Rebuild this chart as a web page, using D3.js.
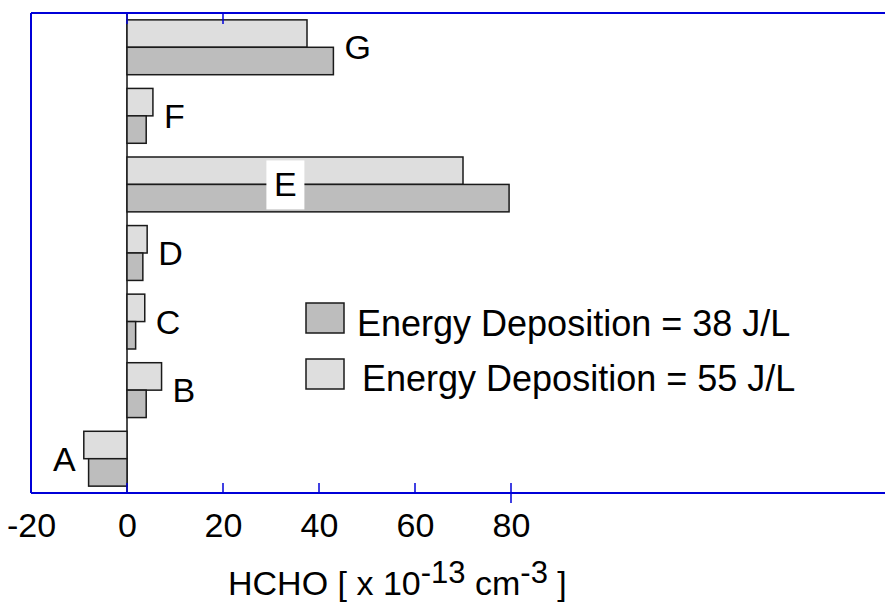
<!DOCTYPE html>
<html><head><meta charset="utf-8">
<script src="https://cdn.jsdelivr.net/npm/d3@7"></script>
<style>
body{margin:0;background:#fff}
svg{display:block;font-family:"Liberation Sans",Arial,Helvetica,sans-serif}
</style></head>
<body>
<svg id="chart" width="885" height="603"></svg>
<script>
// ---- data ----
const categories = ["A", "B", "C", "D", "E", "F", "G"];
const energy38 = [-8, 4, 1.8, 3.3, 79.6, 4, 43];      // dark bars
const energy55 = [-9, 7.2, 3.7, 4.2, 70, 5.4, 37.5];  // light bars
const seriesNames = ["Energy Deposition = 38 J/L", "Energy Deposition = 55 J/L"];
const tickValues = [-20, 0, 20, 40, 60, 80];
const topTickValues = [-20, 0, 20];
const insideLabel = "E";      // label drawn inside its bar on a white box
const insideLabelValue = 33;  // data position of that label

(function () {
// ---- layout ----
const svg = d3.select("#chart");
const pLeft = 31, pTop = 13, pBottom = 493;
const x = d3.scaleLinear().domain([-20, 160]).range([pLeft, pLeft + 180 * 4.8]);
const y = d3.scaleBand().domain(categories).range([pBottom, pTop]).padding(0);
const groupH = y.bandwidth() * 0.8;
const barH = groupH / 2;
const blue = "#0000d8";
const light = "#dedede", dark = "#bdbdbd";

const rows = categories.map((c, i) => ({ cat: c, v38: energy38[i], v55: energy55[i] }));

// zero line
svg.append("line")
  .attr("x1", x(0)).attr("x2", x(0)).attr("y1", pTop).attr("y2", pBottom)
  .attr("stroke", "#111").attr("stroke-width", 1.5);

// bars
const g = svg.append("g");
rows.forEach(r => {
  const cy = y(r.cat) + y.bandwidth() / 2;
  g.append("rect")
    .attr("x", x(Math.min(0, r.v55))).attr("y", cy - barH)
    .attr("width", Math.abs(x(r.v55) - x(0))).attr("height", barH)
    .attr("fill", light).attr("stroke", "#1a1a1a").attr("stroke-width", 1.5);
  g.append("rect")
    .attr("x", x(Math.min(0, r.v38))).attr("y", cy)
    .attr("width", Math.abs(x(r.v38) - x(0))).attr("height", barH)
    .attr("fill", dark).attr("stroke", "#1a1a1a").attr("stroke-width", 1.5);
});

// category labels
rows.forEach(r => {
  const cy = y(r.cat) + y.bandwidth() / 2;
  if (r.cat === insideLabel) {
    const cx = x(insideLabelValue);
    svg.append("rect").attr("x", cx - 19).attr("y", cy - 24).attr("width", 38).attr("height", 49)
      .attr("fill", "#fff");
    svg.append("text").attr("x", cx).attr("y", cy + 12).attr("text-anchor", "middle")
      .attr("font-size", 34).attr("fill", "#000").text(r.cat);
  } else {
    const mn = Math.min(r.v38, r.v55), mx = Math.max(r.v38, r.v55);
    const neg = mn < 0;
    svg.append("text")
      .attr("x", neg ? x(mn) - 8 : x(mx) + 11)
      .attr("y", cy + 12)
      .attr("text-anchor", neg ? "end" : "start")
      .attr("font-size", 34).attr("fill", "#000").text(r.cat);
  }
});

// frame (right side beyond canvas)
svg.append("line").attr("x1", pLeft).attr("x2", 885).attr("y1", pTop).attr("y2", pTop)
  .attr("stroke", blue).attr("stroke-width", 2);
svg.append("line").attr("x1", pLeft).attr("x2", pLeft).attr("y1", pTop).attr("y2", pBottom)
  .attr("stroke", blue).attr("stroke-width", 2);

// bottom axis
const axis = d3.axisBottom(x).tickValues(tickValues).tickSize(0).tickFormat(d => String(d));
const ax = svg.append("g").attr("transform", `translate(0,${pBottom})`).call(axis);
ax.select(".domain").remove();
ax.selectAll(".tick text").attr("font-size", 34).attr("fill", "#000")
  .attr("font-family", "'Liberation Sans',Arial,sans-serif").attr("dy", "1.2em");
svg.append("line").attr("x1", pLeft).attr("x2", 885).attr("y1", pBottom).attr("y2", pBottom)
  .attr("stroke", blue).attr("stroke-width", 2);
tickValues.forEach(v => {
  svg.append("line").attr("x1", x(v)).attr("x2", x(v))
    .attr("y1", pBottom - 10).attr("y2", v === 80 ? pBottom + 10 : pBottom)
    .attr("stroke", blue).attr("stroke-width", 1.5);
});
topTickValues.forEach(v => {
  svg.append("line").attr("x1", x(v)).attr("x2", x(v))
    .attr("y1", pTop).attr("y2", pTop + 11)
    .attr("stroke", blue).attr("stroke-width", 1.5);
});

// axis title
const t = svg.append("text").attr("x", 228).attr("y", 595).attr("font-size", 34).attr("fill", "#000");
t.append("tspan").text("HCHO [ x 10");
t.append("tspan").attr("dy", -12).attr("font-size", 31).text("-13");
t.append("tspan").attr("dy", 12).text(" cm");
t.append("tspan").attr("dy", -12).attr("font-size", 31).text("-3");
t.append("tspan").attr("dy", 12).text(" ]");

// legend
const legend = [
  { name: seriesNames[0], fill: dark, bx: 306, by: 303, tx: 357, ty: 336 },
  { name: seriesNames[1], fill: light, bx: 306, by: 359, tx: 362, ty: 391 }
];
legend.forEach(l => {
  svg.append("rect").attr("x", l.bx).attr("y", l.by).attr("width", 38).attr("height", 30)
    .attr("fill", l.fill).attr("stroke", "#1a1a1a").attr("stroke-width", 1.5);
  svg.append("text").attr("x", l.tx).attr("y", l.ty).attr("font-size", 36).attr("fill", "#000").text(l.name);
});
})();
</script>
</body></html>
